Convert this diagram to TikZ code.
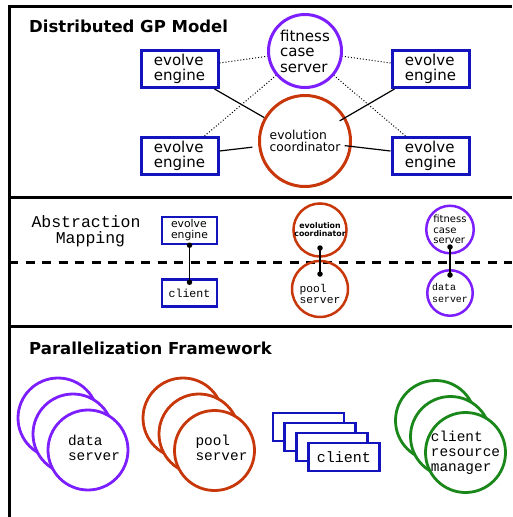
\documentclass[tikz,border=0pt]{standalone}
\usepackage{fontspec}
\setmainfont{DejaVu Sans}
\newfontfamily\monofont{Liberation Mono}
\usetikzlibrary{calc}
\definecolor{cblue}{RGB}{20,20,190}
\definecolor{cpurple}{RGB}{125,30,255}
\definecolor{cred}{RGB}{200,55,10}
\definecolor{cgreen}{RGB}{25,135,25}
\newcommand{\fsz}[2]{\fontsize{#1}{#2}\selectfont}

\begin{document}
\begin{tikzpicture}[x=1pt,y=-1pt,
  frameline/.style={line width=3pt},
  heading/.style={anchor=base west, inner sep=0pt, font=\bfseries\fsz{16.5}{18}},
  engine/.style={draw=cblue, line width=3pt, minimum width=77pt, minimum height=37pt,
    inner sep=0pt, align=left, font=\fsz{15}{15.5}},
  fitcircle/.style={circle, draw=cpurple, line width=3pt, minimum size=73pt,
    inner sep=0pt, align=left, font=\fsz{15}{15.5}},
  coordcircle/.style={circle, draw=cred, line width=3pt, minimum size=91pt,
    inner sep=0pt, align=left, font=\fsz{12.3}{12.8}},
  smallbox/.style={draw=cblue, line width=2.5pt, minimum width=55pt, minimum height=27pt,
    inner sep=0pt, align=left},
  smallcircle/.style={circle, line width=2.5pt, inner sep=0pt, align=left},
  link/.style={line width=1.2pt},
  weaklink/.style={line width=1pt, dotted},
  joint/.style={line width=1.2pt, shorten <=-0.1pt},
  dot/.style={circle, fill=black, inner sep=0pt, minimum size=5.5pt},
  stackcircle/.style={circle, line width=2.8pt, minimum size=80pt, fill=white, inner sep=0pt},
  stackbox/.style={draw=cblue, line width=2.8pt, fill=white, minimum width=71pt,
    minimum height=28pt, inner sep=0pt},
  stacktext/.style={align=left, inner sep=0pt, font=\monofont\fsz{14.4}{15}},
]
\useasboundingbox (0,0) rectangle (512,517);

% frame and section rules
\draw[frameline] (9,517) -- (9,6) -- (512,6);
\draw[frameline] (9,197) -- (512,197);
\draw[frameline] (9,326) -- (512,326);

% ---------------- Distributed GP Model ----------------
\node[heading] (t1) at (29,32) {Distributed GP Model};

\node[engine] (eeTL) at (179.5,69) {evolve\\engine};
\node[engine] (eeTR) at (430.5,69) {evolve\\engine};
\node[engine] (eeBL) at (179.5,156) {evolve\\engine};
\node[engine] (eeBR) at (430.5,156) {evolve\\engine};
\node[fitcircle] (fcs) at (305,51) {fitness\\case\\server};
\node[coordcircle] (coord) at (305,141) {evolution\\coordinator};

\draw[weaklink] ($(eeTL.east)+(0,-6)$) -- (fcs);
\draw[weaklink] ($(eeTR.west)+(0,-6)$) -- (fcs);
\draw[weaklink] ($(eeBL.north)+(25,0)$) -- (fcs);
\draw[weaklink] ($(eeBR.north)+(-25,0)$) -- (fcs);

\draw[link] ($(eeTL.south east)+(-5,0)$) -- (coord);
\draw[link, shorten >=40pt] ($(eeTR.south west)+(4,0)$) -- (coord.center);
\draw[link, shorten >=6pt] ($(eeBL.east)+(0,-5)$) -- (coord);
\draw[link, shorten <=40pt] (coord.center) -- ($(eeBR.west)+(0,-5)$);

% ---------------- Abstraction Mapping ----------------
\node[align=center, inner sep=0pt, font=\monofont\fsz{16.5}{15.5}] (t2) at (86,231)
  {Abstraction\\\hspace*{9pt}Mapping};
\draw[line width=3pt, dash pattern=on 9pt off 7.5pt] (9,262) -- (512,262);

\node[smallbox, font=\fsz{10.8}{11}] (ee2) at (189.5,230.5) {evolve\\engine};
\node[smallbox, font=\monofont\fsz{11.6}{12}] (cl2) at (189.5,293) {client};
\node[smallcircle, draw=cred, minimum size=53pt, font=\bfseries\fsz{7.8}{8}, align=center]
  (coord2) at (320,230) {evolution\\coordinator};
\node[smallcircle, draw=cred, minimum size=56pt,
  label={[align=left, inner sep=0pt, yshift=-5pt, font=\monofont\fsz{11.3}{11}]center:{pool\\server}}]
  (pool2) at (320,289) {};
\node[smallcircle, draw=cpurple, minimum size=47.5pt, font=\fsz{10}{10.3}]
  (fcs2) at (450,229.5) {fitness\\case\\server};
\node[smallcircle, draw=cpurple, minimum size=45.5pt, font=\monofont\fsz{9.9}{12}]
  (data2) at (450,293) {data\\server};

\coordinate (a1) at (ee2.south);
\coordinate (a2) at ($(cl2.north)+(0,4)$);
\coordinate (b1) at ($(coord2.center)+(0,18)$);
\coordinate (b2) at ($(pool2.center)+(0,-15)$);
\coordinate (c1) at ($(fcs2.center)+(0,17.5)$);
\coordinate (c2) at ($(data2.center)+(0,-18)$);
\draw[joint] (a1) -- (a2);
\draw[joint] (b1) -- (b2);
\draw[joint] (c1) -- (c2);
\foreach \p in {a1,a2,b1,b2,c1,c2} \node[dot] at (\p) {};

% ---------------- Parallelization Framework ----------------
\node[heading] (t3) at (29,354) {Parallelization Framework};

% data servers
\node[stackcircle, draw=cpurple] (ds1) at (58,418) {};
\node[stackcircle, draw=cpurple] (ds2) at (73,434) {};
\node[stackcircle, draw=cpurple,
  label={[stacktext, xshift=6pt, yshift=2.5pt]center:{data\\server}}] (ds3) at (88,450) {};

% pool servers
\node[stackcircle, draw=cred] (ps1) at (183,418) {};
\node[stackcircle, draw=cred] (ps2) at (199,434) {};
\node[stackcircle, draw=cred,
  label={[stacktext, xshift=7pt, yshift=2.5pt]center:{pool\\server}}] (ps3) at (214.5,450.5) {};

% clients
\node[stackbox] (cs1) at (308.5,427) {};
\node[stackbox] (cs2) at (320,437) {};
\node[stackbox] (cs3) at (332,447) {};
\node[stackbox, font=\monofont\fsz{15}{15}] (cs4) at (344,457) {client};

% client resource managers
\node[stackcircle, draw=cgreen] (rm1) at (435.5,420.5) {};
\node[stackcircle, draw=cgreen] (rm2) at (450.5,436.5) {};
\node[stackcircle, draw=cgreen,
  label={[stacktext]center:{client\\resource\\manager}}] (rm3) at (465.5,452.5) {};
\end{tikzpicture}
\end{document}
